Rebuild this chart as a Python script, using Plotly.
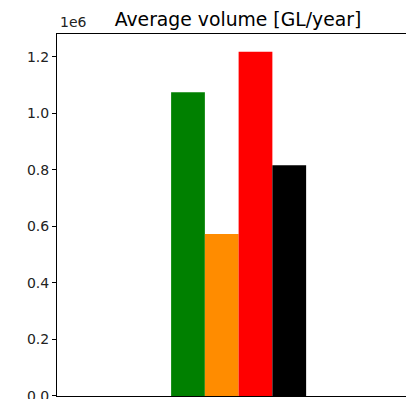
import plotly.graph_objects as go

# Average annual volumes (GL/year) for the four scenarios
scenarios = ["Scenario A", "Scenario B", "Scenario C", "Scenario D"]
volumes = [1.075e6, 0.5735e6, 1.2188e6, 0.8166e6]
colors = ["green", "darkorange", "red", "black"]
positions = [0, 1, 2, 3]

tick_vals = [0, 0.2e6, 0.4e6, 0.6e6, 0.8e6, 1.0e6, 1.2e6]
tick_text = ["0.0", "0.2", "0.4", "0.6", "0.8", "1.0", "1.2"]

fig = go.Figure()
for pos, name, val, col in zip(positions, scenarios, volumes, colors):
    fig.add_trace(go.Bar(
        x=[pos], y=[val], name=name, width=1,
        marker=dict(color=col, line=dict(width=0)),
        showlegend=False,
    ))

font = "DejaVu Sans"
fig.update_layout(
    width=406, height=399,
    margin=dict(l=57, r=0, t=34, b=3),
    plot_bgcolor="white", paper_bgcolor="white",
    barmode="overlay",
    title=dict(
        text="Average volume [GL/year]",
        x=238 / 406, xref="container", xanchor="center",
        y=1 - 19 / 399, yanchor="middle",
        font=dict(family=font, size=18.8, color="black"),
    ),
    xaxis=dict(
        range=[-3.881, 6.459], automargin=False,
        showline=True, mirror=True, linecolor="black", linewidth=1,
        showgrid=False, zeroline=False, showticklabels=False, ticks="",
    ),
    yaxis=dict(
        range=[-300, 1.2814e6], automargin=False,
        showline=True, mirror=False, linecolor="black", linewidth=1,
        showgrid=False, zeroline=False,
        tickvals=tick_vals, ticktext=tick_text,
        ticks="outside", ticklen=4, tickcolor="black", tickwidth=1,
        ticklabeloverflow="allow",
        tickfont=dict(family=font, size=14, color="#222222"),
    ),
    annotations=[dict(
        text="1e6", xref="paper", yref="paper", x=0, y=1,
        xanchor="left", yanchor="bottom", showarrow=False,
        xshift=1, yshift=2,
        font=dict(family=font, size=14, color="#222222"),
    )],
)

fig.write_html("out.html")
